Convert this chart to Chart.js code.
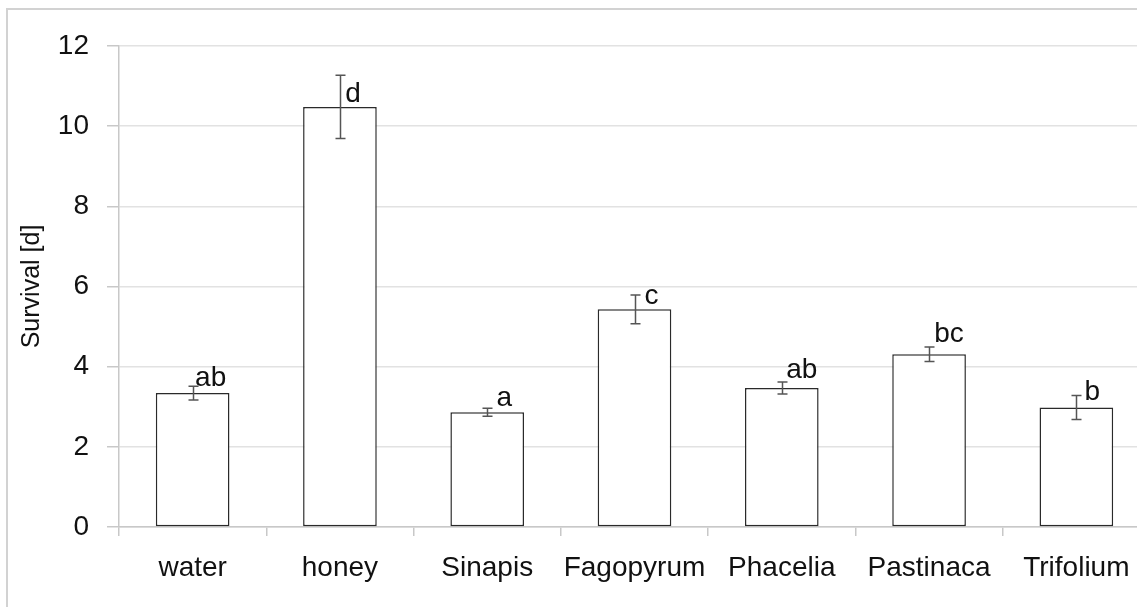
<!DOCTYPE html>
<html>
<head>
<meta charset="utf-8">
<script src="https://cdn.jsdelivr.net/npm/chart.js@4.4.1/dist/chart.umd.min.js"></script>
<style>
  html, body { margin: 0; padding: 0; background: #fff; overflow: hidden; }
  #frame { position: absolute; left: 6px; top: 8px; width: 1200px; height: 700px;
           border-left: 2px solid #d2d2d2; border-top: 2px solid #d2d2d2; }
  #wrap { position: absolute; left: 0; top: 0; }
</style>
</head>
<body>
<div id="frame"></div>
<div id="wrap"><canvas id="myChart" width="1150" height="607"></canvas></div>
<script>
const categories = ['water', 'honey', 'Sinapis', 'Fagopyrum', 'Phacelia', 'Pastinaca', 'Trifolium'];
const means = [3.34, 10.48, 2.86, 5.43, 3.47, 4.31, 2.98];
const errors = [0.17, 0.79, 0.1, 0.36, 0.15, 0.18, 0.3];
const letters = ['ab', 'd', 'a', 'c', 'ab', 'bc', 'b'];
const yTicks = [0, 2, 4, 6, 8, 10, 12];

// where the letters sit, relative to the top of each error bar (px)
const letterDx = [18, 13, 17, 17, 20, 20, 16];
const letterDy = [0, 27, -2, 9, -4, -5, 4];

const errorBars = {
    id: 'errorBars',
    afterDatasetsDraw(chart) {
        const ctx = chart.ctx;
        const x = chart.scales.x, y = chart.scales.y;
        ctx.save();
        ctx.strokeStyle = '#555';
        ctx.lineWidth = 1.5;
        means.forEach(function (m, i) {
            const cx = Math.round(x.getPixelForValue(i)) + 0.5;
            const top = y.getPixelForValue(m + errors[i]);
            const bot = y.getPixelForValue(m - errors[i]);
            ctx.beginPath();
            ctx.moveTo(cx, top); ctx.lineTo(cx, bot);
            ctx.moveTo(cx - 5, top); ctx.lineTo(cx + 5, top);
            ctx.moveTo(cx - 5, bot); ctx.lineTo(cx + 5, bot);
            ctx.stroke();
        });
        ctx.fillStyle = '#111';
        ctx.font = '28px "Liberation Sans", Arial, sans-serif';
        ctx.textAlign = 'center';
        ctx.textBaseline = 'alphabetic';
        letters.forEach(function (t, i) {
            const cx = x.getPixelForValue(i) + letterDx[i];
            const top = y.getPixelForValue(means[i] + errors[i]);
            ctx.fillText(t, cx, top + letterDy[i]);
        });
        ctx.restore();
    }
};

const config = {
    type: 'bar',
    data: {
        labels: categories,
        datasets: [{
            label: 'Survival',
            data: means,
            backgroundColor: '#ffffff',
            borderColor: '#2a2a2a',
            borderWidth: 1.5,
            borderSkipped: false,
            barPercentage: 0.5,
            categoryPercentage: 1.0
        }]
    },
    options: {
        responsive: false,
        animation: false,
        layout: { padding: { left: 0, top: 46, right: 0, bottom: 0 } },
        plugins: {
            legend: { display: false },
            tooltip: { enabled: false }
        },
        scales: {
            x: {
                afterFit: function (s) { s.height = 80; },
                grid: {
                    offset: true,
                    drawOnChartArea: false,
                    tickLength: 9,
                    color: '#c8c8c8',
                    lineWidth: 1.5
                },
                border: { color: '#c8c8c8', width: 1.5 },
                ticks: {
                    color: '#111',
                    padding: 15,
                    maxRotation: 0,
                    minRotation: 0,
                    autoSkip: false,
                    font: { family: '"Liberation Sans", Arial, sans-serif', size: 28 }
                }
            },
            y: {
                min: 0,
                max: 12,
                afterFit: function (s) { s.width = 119; },
                afterBuildTicks: function (s) { s.ticks = yTicks.map(v => ({ value: v })); },
                grid: {
                    color: '#e2e2e2',
                    lineWidth: 1.5,
                    tickLength: 12,
                    tickColor: '#c8c8c8'
                },
                border: { color: '#c8c8c8', width: 1.5 },
                ticks: {
                    color: '#111',
                    padding: 18,
                    font: { family: '"Liberation Sans", Arial, sans-serif', size: 28 }
                },
                title: {
                    display: true,
                    text: 'Survival [d]',
                    color: '#111',
                    padding: { top: 17, bottom: 0 },
                    font: { family: '"Liberation Sans", Arial, sans-serif', size: 25 }
                }
            }
        }
    },
    plugins: [errorBars]
};

const myChart = new Chart(document.getElementById('myChart'), config);
</script>
</body>
</html>
